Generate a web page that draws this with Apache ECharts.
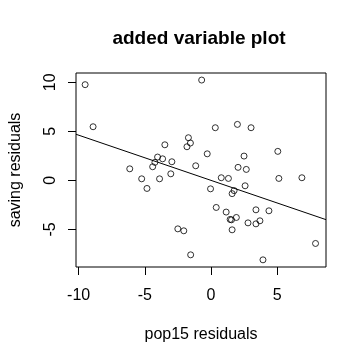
<!DOCTYPE html>
<html>
<head>
<meta charset="utf-8">
<script src="https://cdn.jsdelivr.net/npm/echarts@6/dist/echarts.min.js"></script>
<style>html,body{margin:0;padding:0;background:#fff;}#c{width:363px;height:359px;}</style>
</head>
<body>
<div id="c"></div>
<script>
var xResid = [-9.51,-8.91,-0.71,-1.71,-1.56,-1.82,-3.49,-0.29,-4.04,-3.66,-4.24,-4.41,-2.96,-1.16,-6.14,-3.04,-5.24,-3.89,-4.84,-0.04,0.32,1.99,3.02,2.49,5.04,2.04,2.66,0.77,1.31,5.12,6.86,1.74,1.59,2.57,0.39,1.14,1.44,1.54,1.91,3.39,4.37,2.79,3.39,3.69,1.59,-2.06,-2.51,7.89,-1.54,3.92];
var yResid = [9.76,5.47,10.23,4.35,3.81,3.43,3.63,2.71,2.38,2.20,1.84,1.39,1.90,1.49,1.18,0.67,0.16,0.16,-0.82,-0.86,5.37,5.71,5.37,2.48,2.96,1.33,1.12,0.27,0.20,0.20,0.27,-1.04,-1.35,-0.55,-2.76,-3.23,-3.98,-4.02,-3.78,-3.00,-3.10,-4.33,-4.43,-4.12,-5.04,-5.14,-4.94,-6.43,-7.59,-8.10];
var xTicks = [-10,-5,0,5];
var yTicks = [-5,0,5,10];
var fitSlope = -0.461;
var fitIntercept = 0;

var xMin = -10.2, xMax = 8.68, yMin = -8.83, yMax = 10.95;
var pts = xResid.map(function(x,i){return [x, yResid[i]];});
var linePts = [[xMin, fitIntercept + fitSlope*xMin],[xMax, fitIntercept + fitSlope*xMax]];

var font = 'Liberation Sans, Arial, sans-serif';
var chart = echarts.init(document.getElementById('c'), null, {renderer:'canvas'});
chart.setOption({
  animation: false,
  backgroundColor: '#fff',
  graphic: [{
    type: 'text', x: 199, y: 29,
    style: {text: 'added variable plot', font: 'bold 19px ' + font, fill: '#000', textAlign: 'center', textVerticalAlign: 'top'}
  }],
  grid: {left: 73, right: 37, top: 73, bottom: 92, show: true, borderColor: '#000', borderWidth: 1, backgroundColor: 'transparent'},
  xAxis: {
    type: 'value', min: xMin, max: xMax,
    name: 'pop15 residuals', nameLocation: 'middle', nameGap: 60,
    nameTextStyle: {fontFamily: font, fontSize: 16, color: '#000'},
    axisLine: {show: false, onZero: false},
    axisTick: {show: true, inside: false, length: 8, lineStyle: {color: '#000'}, customValues: xTicks},
    axisLabel: {fontFamily: font, fontSize: 16, color: '#000', margin: 21, customValues: xTicks},
    splitLine: {show: false}
  },
  yAxis: {
    type: 'value', min: yMin, max: yMax,
    name: 'saving residuals', nameLocation: 'middle', nameGap: 52,
    nameTextStyle: {fontFamily: font, fontSize: 16, color: '#000'},
    axisLine: {show: false, onZero: false},
    axisTick: {show: true, inside: false, length: 8, lineStyle: {color: '#000'}, customValues: yTicks},
    axisLabel: {fontFamily: font, fontSize: 16, color: '#000', margin: 17, rotate: 90, customValues: yTicks},
    splitLine: {show: false}
  },
  series: [{
    type: 'scatter', data: pts, symbol: 'circle', symbolSize: 6,
    itemStyle: {color: 'rgba(0,0,0,0)', borderColor: '#000', borderWidth: 1}
  }, {
    type: 'line', data: linePts, showSymbol: false, symbol: 'none',
    lineStyle: {color: '#000', width: 1}, clip: true
  }]
});
</script>
</body>
</html>
